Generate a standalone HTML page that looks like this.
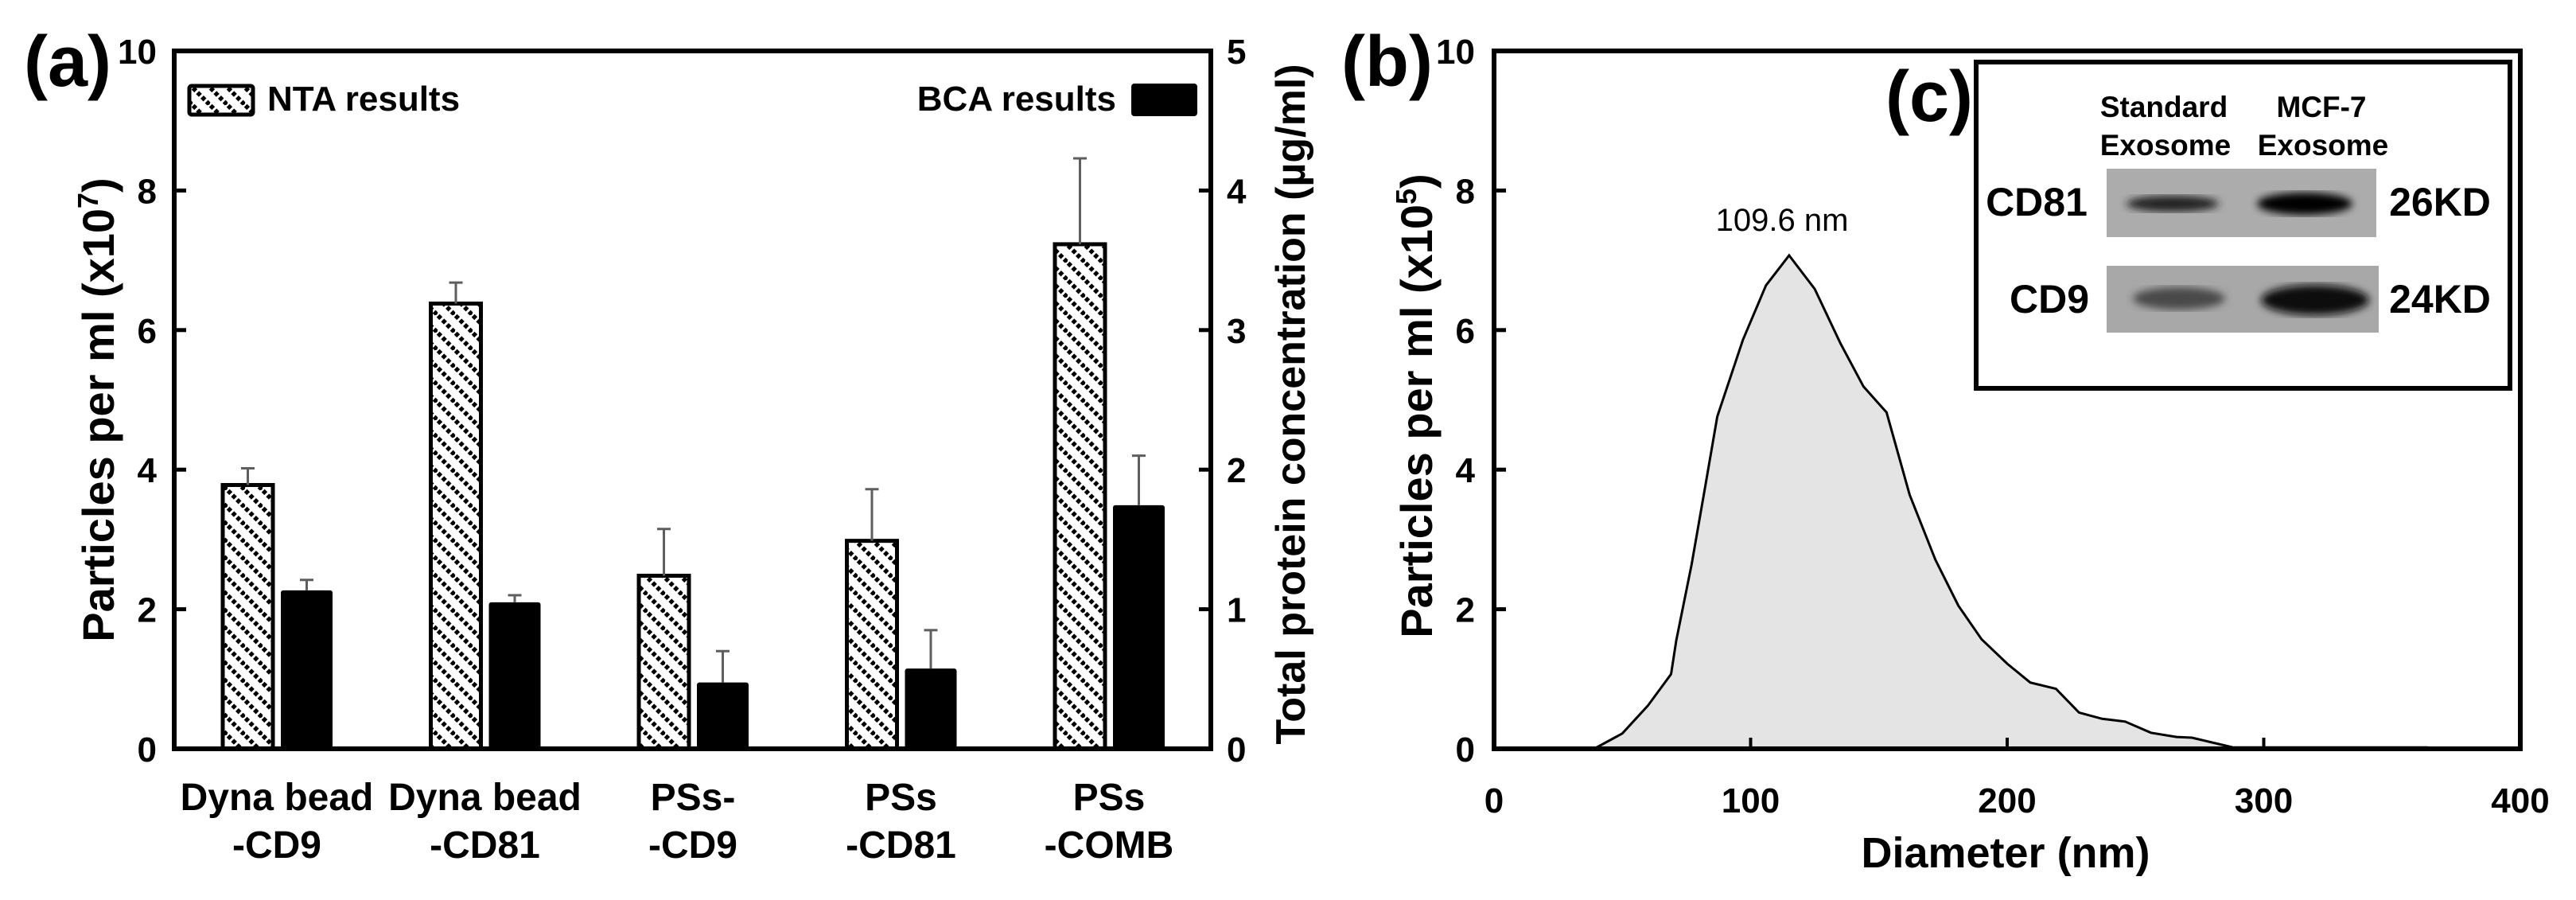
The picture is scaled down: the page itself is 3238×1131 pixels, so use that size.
<!DOCTYPE html>
<html><head><meta charset="utf-8"><style>
html,body{margin:0;padding:0;background:#fff}
svg{display:block}
text{font-family:"Liberation Sans",Arial,sans-serif}
</style></head><body>
<svg id="fig" width="3238" height="1131" viewBox="0 0 3238 1131" xmlns="http://www.w3.org/2000/svg">
<defs>
<pattern id="hatch" patternUnits="userSpaceOnUse" width="22" height="22">
<rect width="22" height="22" fill="#fff"/>
<path d="M-5,-5 L27,27 M-5,17 L5,27 M17,-5 L27,5" stroke="#000" stroke-width="5.5" stroke-dasharray="5,3"/>
</pattern>
<filter id="blur"><feGaussianBlur stdDeviation="5"/></filter>
</defs>
<g id="panelA"></g>
<g id="panelB"></g>
</svg>
<script>
const categories = [["Dyna bead","-CD9"],["Dyna bead","-CD81"],["PSs-","-CD9"],["PSs","-CD81"],["PSs","-COMB"]];
const ntaValues = [3.78, 6.38, 2.48, 2.98, 7.23];
const ntaErrors = [0.24, 0.30, 0.67, 0.74, 1.23];
const bcaValues = [1.135, 1.05, 0.475, 0.575, 1.745];
const bcaErrors = [0.075, 0.05, 0.225, 0.275, 0.355];
const leftTicks = [0, 2, 4, 6, 8, 10];
const rightTicks = [0, 1, 2, 3, 4, 5];
const diamX = [39, 50, 60, 69, 71, 77, 82, 87, 92, 97, 106, 115, 125, 135, 144, 153, 162, 172, 181, 190, 200, 209, 219, 228, 237, 246, 256, 266, 272, 288, 364];
const diamY = [0, 0.22, 0.62, 1.07, 1.55, 2.64, 3.69, 4.76, 5.31, 5.86, 6.64, 7.07, 6.59, 5.81, 5.19, 4.82, 3.64, 2.71, 2.05, 1.57, 1.22, 0.95, 0.86, 0.52, 0.43, 0.39, 0.23, 0.17, 0.16, 0.02, 0.02];
const bxTicks = [0, 100, 200, 300, 400];
const byTicks = [0, 2, 4, 6, 8, 10];

const NS = "http://www.w3.org/2000/svg";
function mk(parent, tag, attrs, txt){
  const e = document.createElementNS(NS, tag);
  for (const k in attrs) e.setAttribute(k, attrs[k]);
  if (txt !== undefined) e.textContent = txt;
  parent.appendChild(e);
  return e;
}
// ---------- Panel A ----------
const A = document.getElementById('panelA');
const aL = 219, aR = 1522, aT = 64, aB = 941;
const yA = v => aB - v * (aB - aT) / 10;
const yA2 = v => aB - v * (aB - aT) / 5;
const grpX = i => 280 + 261.5 * i;

let t = mk(A, 'text', {x: 30, y: 108, 'font-size': 90, 'font-weight': 'bold'}, '(a)');



categories.forEach((c, i) => {
  const hx = grpX(i), bx = hx + 73;
  let r = mk(A, 'rect', {x: hx, y: yA(ntaValues[i]), width: 63, height: aB - yA(ntaValues[i]), fill: 'url(#hatch)', stroke: '#000', 'stroke-width': 5});
  
  
  let e = mk(A, 'path', {d: `M${hx+31.5},${yA(ntaValues[i])} V${yA(ntaValues[i]+ntaErrors[i])} M${hx+23},${yA(ntaValues[i]+ntaErrors[i])} H${hx+40}`, stroke: '#5e5e5e', 'stroke-width': 3, fill: 'none'});
  
  
  let b = mk(A, 'rect', {x: bx, y: yA2(bcaValues[i]), width: 65, height: aB - yA2(bcaValues[i]), fill: '#000', rx: 3});
  
  
  let e2 = mk(A, 'path', {d: `M${bx+32.5},${yA2(bcaValues[i])} V${yA2(bcaValues[i]+bcaErrors[i])} M${bx+24},${yA2(bcaValues[i]+bcaErrors[i])} H${bx+41}`, stroke: '#5e5e5e', 'stroke-width': 3, fill: 'none'});
  
  
  const cx = hx + 68;
  let l1 = mk(A, 'text', {x: cx, y: 1018, 'font-size': 48, 'font-weight': 'bold', 'text-anchor': 'middle'}, c[0]);
  
  
  let l2 = mk(A, 'text', {x: cx, y: 1078, 'font-size': 48, 'font-weight': 'bold', 'text-anchor': 'middle'}, c[1]);
  
  
});
let ax = mk(A, 'path', {d: `M${aL},${aB} V${aT} H${aR} V${aB} Z`, fill: 'none', stroke: '#000', 'stroke-width': 6});


leftTicks.forEach(v => {
  let tk = mk(A, 'line', {x1: aL, x2: aL + 15, y1: yA(v), y2: yA(v), stroke: '#000', 'stroke-width': 5});
  
  
  let tl = mk(A, 'text', {x: 197, y: yA(v) + 16, 'font-size': 44, 'font-weight': 'bold', 'text-anchor': 'end'}, String(v));
  
  
});
rightTicks.forEach(v => {
  let tk = mk(A, 'line', {x1: aR - 15, x2: aR, y1: yA2(v), y2: yA2(v), stroke: '#000', 'stroke-width': 5});
  
  
  let tl = mk(A, 'text', {x: 1542, y: yA2(v) + 16, 'font-size': 44, 'font-weight': 'bold'}, String(v));
  
  
});
let lt = mk(A, 'text', {transform: 'translate(143,515) rotate(-90)', 'font-size': 56, 'font-weight': 'bold', 'text-anchor': 'middle'});


lt.innerHTML = 'Particles per ml (x10<tspan dy="-20" font-size="36">7</tspan><tspan dy="20">)</tspan>';
let rt = mk(A, 'text', {transform: 'translate(1640,508) rotate(-90)', 'font-size': 52, 'font-weight': 'bold', 'text-anchor': 'middle'}, 'Total protein concentration (µg/ml)');


let lg1 = mk(A, 'rect', {x: 238, y: 108, width: 80, height: 36, fill: 'url(#hatch)', stroke: '#000', 'stroke-width': 5, rx: 3});


let lgt1 = mk(A, 'text', {x: 336, y: 139, 'font-size': 44, 'font-weight': 'bold'}, 'NTA results');


let lg2 = mk(A, 'rect', {x: 1422, y: 105, width: 83, height: 41, fill: '#000', rx: 4});


let lgt2 = mk(A, 'text', {x: 1403, y: 139, 'font-size': 44, 'font-weight': 'bold', 'text-anchor': 'end'}, 'BCA results');



// ---------- Panel B ----------
const B = document.getElementById('panelB');
const bL = 1878, bR = 3168, bT = 64, bB = 941;
const xB = v => bL + v * (bR - bL) / 400;
const yB = v => bB - v * (bB - bT) / 10;
let tb = mk(B, 'text', {x: 1686, y: 108, 'font-size': 90, 'font-weight': 'bold'}, '(b)');


let pts = diamX.map((x, i) => `${xB(x).toFixed(1)},${yB(diamY[i]).toFixed(1)}`);
let area = mk(B, 'path', {d: `M${xB(diamX[0])},${bB} L${pts.join(' L')} L${xB(diamX[diamX.length-1])},${bB} Z`, fill: '#e4e4e4', stroke: 'none'});


let line = mk(B, 'path', {d: `M${pts.join(' L')}`, fill: 'none', stroke: '#000', 'stroke-width': 3});


let bx = mk(B, 'path', {d: `M${bL},${bB} V${bT} H${bR} V${bB} Z`, fill: 'none', stroke: '#000', 'stroke-width': 6});


byTicks.forEach(v => {
  let tk = mk(B, 'line', {x1: bL, x2: bL + 15, y1: yB(v), y2: yB(v), stroke: '#000', 'stroke-width': 5});
  
  
  let tl = mk(B, 'text', {x: 1854, y: yB(v) + 16, 'font-size': 44, 'font-weight': 'bold', 'text-anchor': 'end'}, String(v));
  
  
});
bxTicks.forEach(v => {
  if (v > 0 && v < 400) {
    let tk = mk(B, 'line', {x1: xB(v), x2: xB(v), y1: bB, y2: bB - 14, stroke: '#000', 'stroke-width': 4});
    
    
  }
  let tl = mk(B, 'text', {x: xB(v), y: 1021, 'font-size': 44, 'font-weight': 'bold', 'text-anchor': 'middle'}, String(v));
  
  
});
let xt = mk(B, 'text', {x: 2521, y: 1090, 'font-size': 54, 'font-weight': 'bold', 'text-anchor': 'middle'}, 'Diameter (nm)');


let byt = mk(B, 'text', {transform: 'translate(1800,510) rotate(-90)', 'font-size': 56, 'font-weight': 'bold', 'text-anchor': 'middle'});


byt.innerHTML = 'Particles per ml (x10<tspan dy="-20" font-size="36">5</tspan><tspan dy="20">)</tspan>';
let pk = mk(B, 'text', {x: 2240, y: 290, 'font-size': 40, 'text-anchor': 'middle'}, '109.6 nm');



// ---------- Inset C ----------
const C = mk(B, 'g', {});


let cb = mk(C, 'rect', {x: 2484, y: 78, width: 671, height: 410, fill: '#fff', stroke: '#000', 'stroke-width': 6});


let tc = mk(C, 'text', {x: 2370, y: 152, 'font-size': 90, 'font-weight': 'bold'}, '(c)');


[['Standard', 2720, 147], ['MCF-7', 2918, 147], ['Exosome', 2722, 195], ['Exosome', 2920, 195]].forEach(a => {
  let s = mk(C, 'text', {x: a[1], y: a[2], 'font-size': 37, 'font-weight': 'bold', 'text-anchor': 'middle'}, a[0]);
  
  
});
let b1 = mk(C, 'rect', {x: 2648, y: 212, width: 339, height: 86, fill: '#acacac'});


let b2 = mk(C, 'rect', {x: 2648, y: 334, width: 342, height: 84, fill: '#a8a8a8'});


[[2731, 256, 58, 10, '#222'], [2897, 256, 60, 14, '#050505'], [2739, 375, 58, 14, '#4a4a4a'], [2910, 377, 68, 19, '#080808']].forEach(d => {
  let e = mk(C, 'ellipse', {cx: d[0], cy: d[1], rx: d[2], ry: d[3], fill: d[4], filter: 'url(#blur)'});
  
  
});
[['CD81', 2560, 271], ['CD9', 2576, 393]].forEach(a => {
  let s = mk(C, 'text', {x: a[1], y: a[2], 'font-size': 50, 'font-weight': 'bold', 'text-anchor': 'middle'}, a[0]);
  
  
});
[['26KD', 271], ['24KD', 393]].forEach(a => {
  let s = mk(C, 'text', {x: 3067, y: a[1], 'font-size': 50, 'font-weight': 'bold', 'text-anchor': 'middle'}, a[0]);
  
  
});
</script>
</body></html>
